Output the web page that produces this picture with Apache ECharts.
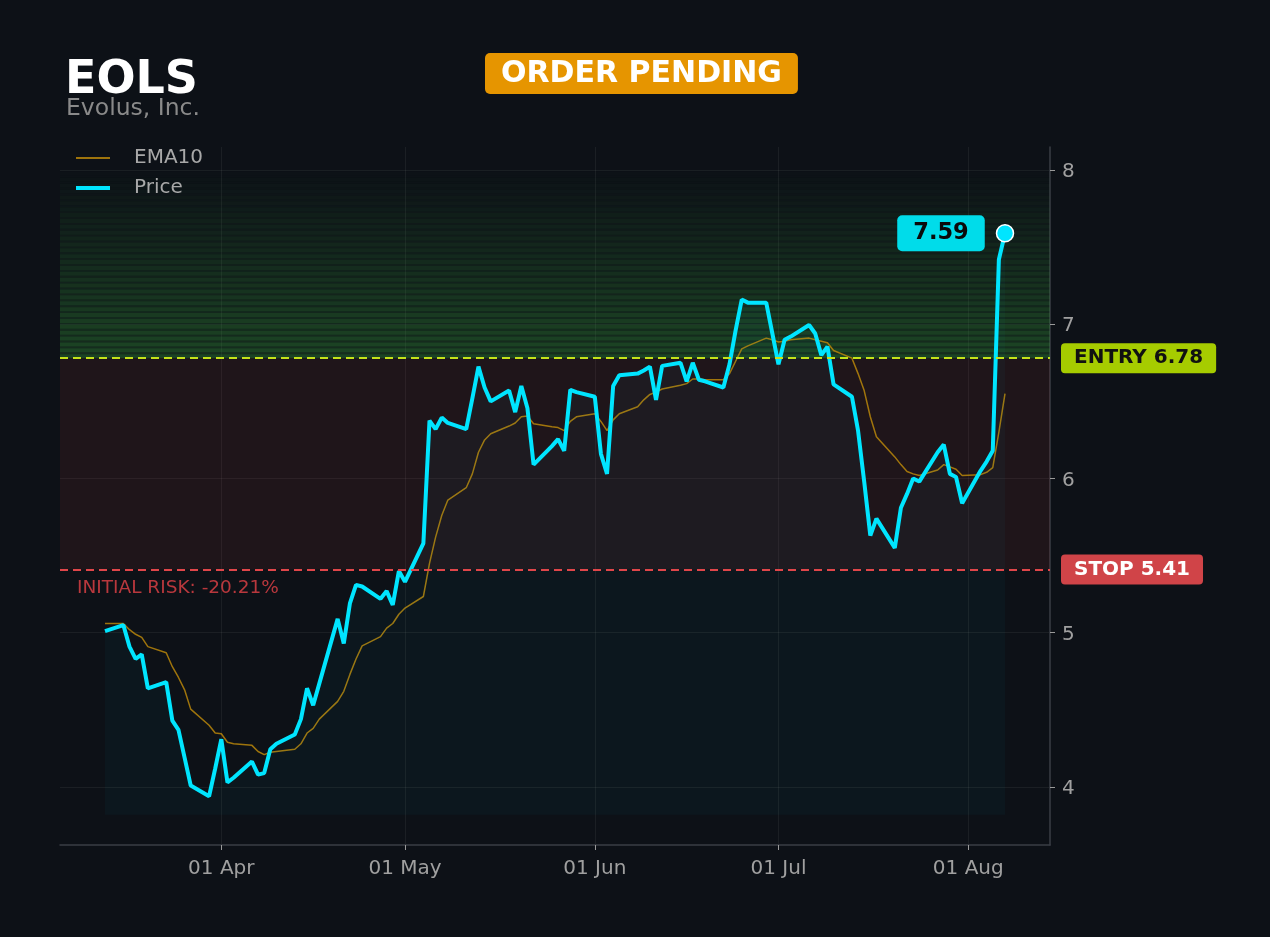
<!DOCTYPE html>
<html>
<head>
<meta charset="utf-8">
<title>EOLS</title>
<script src="https://cdn.jsdelivr.net/npm/echarts@6/dist/echarts.min.js"></script>
<style>
  html, body { margin: 0; padding: 0; background: #0d1117; }
  #chart { width: 1270px; height: 937px; }
</style>
</head>
<body>
<div id="chart"></div>
<script>
// trading days, 2026
const days = [
  '03-13',
  '03-16', '03-17', '03-18', '03-19', '03-20',
  '03-23', '03-24', '03-25', '03-26', '03-27',
  '03-30', '03-31', '04-01', '04-02', '04-03',
  '04-06', '04-07', '04-08', '04-09', '04-10',
  '04-13', '04-14', '04-15', '04-16', '04-17',
  '04-20', '04-21', '04-22', '04-23', '04-24',
  '04-27', '04-28', '04-29', '04-30', '05-01',
  '05-04', '05-05', '05-06', '05-07', '05-08',
  '05-11', '05-12', '05-13', '05-14', '05-15',
  '05-18', '05-19', '05-20', '05-21', '05-22',
  '05-25', '05-26', '05-27', '05-28', '05-29',
  '06-01', '06-02', '06-03', '06-04', '06-05',
  '06-08', '06-09', '06-10', '06-11', '06-12',
  '06-15', '06-16', '06-17', '06-18', '06-19',
  '06-22', '06-23', '06-24', '06-25', '06-26',
  '06-29', '06-30', '07-01', '07-02', '07-03',
  '07-06', '07-07', '07-08', '07-09', '07-10',
  '07-13', '07-14', '07-15', '07-16', '07-17',
  '07-20', '07-21', '07-22', '07-23', '07-24',
  '07-27', '07-28', '07-29', '07-30', '07-31',
  '08-03', '08-04', '08-05', '08-06', '08-07'
];

const price = [
  5.01,
  5.05, 4.91, 4.83, 4.86, 4.64,
  4.68, 4.43, 4.37, 4.19, 4.01,
  3.94, 4.12, 4.31, 4.03, 4.06,
  4.165, 4.08, 4.09, 4.245, 4.28,
  4.34, 4.44, 4.64, 4.53, 4.67,
  5.09, 4.93, 5.19, 5.31, 5.30,
  5.22, 5.27, 5.18, 5.40, 5.33,
  5.58, 6.375, 6.32, 6.395, 6.36,
  6.32, 6.52, 6.725, 6.59, 6.50,
  6.57, 6.43, 6.60, 6.455, 6.09,
  6.21, 6.255, 6.18, 6.575, 6.56,
  6.53, 6.16, 6.03, 6.60, 6.67,
  6.68, 6.70, 6.725, 6.51, 6.73,
  6.75, 6.63, 6.75, 6.64, 6.63,
  6.59, 6.74, 6.96, 7.16, 7.14,
  7.14, 6.94, 6.74, 6.90, 6.92,
  6.995, 6.94, 6.80, 6.855, 6.61,
  6.53, 6.31, 5.98, 5.63, 5.74,
  5.55, 5.81, 5.90, 6.00, 5.98,
  6.17, 6.22, 6.03, 6.01, 5.84,
  6.05, 6.11, 6.18, 7.42, 7.59
];

const ema10 = [
  5.06,
  5.06, 5.02, 4.99, 4.97, 4.91,
  4.87, 4.78, 4.71, 4.63, 4.505,
  4.40, 4.35, 4.345, 4.29, 4.28,
  4.27, 4.23, 4.21, 4.225, 4.23,
  4.245, 4.28, 4.35, 4.38, 4.44,
  4.555, 4.62, 4.73, 4.83, 4.915,
  4.975, 5.03, 5.06, 5.12, 5.16,
  5.235, 5.45, 5.62, 5.76, 5.86,
  5.94, 6.03, 6.17, 6.25, 6.29,
  6.34, 6.36, 6.40, 6.405, 6.355,
  6.335, 6.33, 6.31, 6.37, 6.40,
  6.42, 6.37, 6.31, 6.38, 6.42,
  6.465, 6.51, 6.545, 6.56, 6.58,
  6.605, 6.615, 6.645, 6.645, 6.64,
  6.64, 6.68, 6.76, 6.84, 6.86,
  6.91, 6.90, 6.885, 6.89, 6.90,
  6.91, 6.90, 6.89, 6.88, 6.83,
  6.78, 6.68, 6.57, 6.40, 6.27,
  6.14, 6.09, 6.045, 6.03, 6.02,
  6.055, 6.09, 6.075, 6.06, 6.02,
  6.025, 6.04, 6.07, 6.30, 6.55
];

const monthTicks = ['2026-04-01', '2026-05-01', '2026-06-01', '2026-07-01', '2026-08-01'];
const yTicks = [4, 5, 6, 7, 8];

const entryPrice = 6.78;
const stopPrice = 5.41;
const fillFloor = 3.82;
const targetTop = 8.0;

const toTime = s => new Date(s + 'T00:00:00').getTime();
const dates = days.map(d => toTime('2026-' + d));
const last = dates.length - 1;

const span = dates[last] - dates[0];
const xMin = dates[0] - span * 0.05;
const xMax = dates[last] + span * 0.05;

const riskPct = ((stopPrice - entryPrice) / entryPrice * 100).toFixed(2);

// striped green zone above the entry, fading out upwards
const stripeCount = 32;
const stripeH = (targetTop - entryPrice) / stripeCount;
const zones = [
  [{ yAxis: stopPrice, itemStyle: { color: 'rgba(200,55,60,0.1)' } }, { yAxis: entryPrice }]
];
for (let i = 0; i < stripeCount; i++) {
  const k = 1 - i / stripeCount;
  const y0 = entryPrice + i * stripeH;
  zones.push([{ yAxis: y0, itemStyle: { color: 'rgba(56,162,60,' + (0.36 * k).toFixed(3) + ')' } },
              { yAxis: y0 + stripeH * 0.68 }]);
  zones.push([{ yAxis: y0 + stripeH * 0.68, itemStyle: { color: 'rgba(56,162,60,' + (0.2 * k).toFixed(3) + ')' } },
              { yAxis: y0 + stripeH }]);
}

const FONT = 'DejaVu Sans';
const chart = echarts.init(document.getElementById('chart'));

chart.setOption({
  backgroundColor: '#0d1117',
  animation: false,
  textStyle: { fontFamily: FONT },
  title: [
    { text: 'EOLS', left: 65, top: 58, padding: 0, textStyle: { color: '#ffffff', fontSize: 46, fontWeight: 'bold', fontFamily: FONT } },
    { text: 'Evolus, Inc.', left: 66, top: 97, padding: 0, textStyle: { color: '#8a8a8a', fontSize: 23.5, fontWeight: 'normal', fontFamily: FONT } },
    {
      text: 'ORDER PENDING', left: 485, top: 53,
      backgroundColor: '#e69500', borderRadius: 5, padding: [6, 16, 5, 16],
      textStyle: { color: '#ffffff', fontSize: 30, fontWeight: 'bold', fontFamily: FONT }
    }
  ],
  legend: {
    orient: 'vertical', left: 74, top: 148, padding: 0,
    itemWidth: 34, itemHeight: 10, itemGap: 10,
    itemStyle: { opacity: 0 },
    textStyle: { color: '#a8a8a8', fontSize: 20, fontFamily: FONT, padding: [0, 0, 0, 19] },
    data: [
      { name: 'EMA10', lineStyle: { width: 2, color: 'rgba(184,134,11,0.85)' } },
      { name: 'Price', lineStyle: { width: 4, color: '#00e5ff' } }
    ]
  },
  grid: { left: 60, right: 220, top: 147, bottom: 92 },
  xAxis: {
    type: 'value', min: xMin, max: xMax,
    axisLine: { show: true, lineStyle: { color: '#3a3e46', width: 1.5 } },
    axisTick: { show: true, length: 5, lineStyle: { color: '#9a9a9a' }, customValues: monthTicks.map(toTime) },
    axisLabel: {
      color: '#a0a0a0', fontSize: 20, fontFamily: FONT, margin: 14,
      customValues: monthTicks.map(toTime),
      formatter: v => echarts.time.format(v, '{dd} {MMM}', false)
    },
    splitLine: { show: true, lineStyle: { color: 'rgba(255,255,255,0.06)', width: 1 } }
  },
  yAxis: {
    type: 'value', position: 'right', min: 3.624, max: 8.149,
    axisLine: { show: true, lineStyle: { color: '#3a3e46', width: 1.5 } },
    axisTick: { show: true, length: 5, lineStyle: { color: '#9a9a9a' }, customValues: yTicks },
    axisLabel: {
      margin: 12, customValues: yTicks,
      formatter: v => '{t|' + v + '}',
      rich: { t: { color: '#a0a0a0', fontSize: 20, fontFamily: FONT, padding: [4, 0, 0, 0] } }
    },
    splitLine: { show: true, lineStyle: { color: 'rgba(255,255,255,0.06)', width: 1 } }
  },
  graphic: [{
    type: 'text', left: 77, top: 579, silent: true,
    style: { text: 'INITIAL RISK: ' + riskPct + '%', fill: '#b9383d', font: '18.5px "DejaVu Sans"' }
  }],
  series: [
    {
      name: 'EMA10', type: 'line', z: 2, symbol: 'none',
      data: dates.map((d, i) => [d, ema10[i]]),
      lineStyle: { width: 1.5, color: 'rgba(184,134,11,0.85)' },
      itemStyle: { color: 'rgba(184,134,11,0.85)' },
      markArea: { silent: true, data: zones },
      markLine: {
        silent: true, symbol: ['none', 'none'],
        data: [
          {
            yAxis: entryPrice,
            lineStyle: { color: '#c4e31a', type: [8, 5], width: 2 },
            label: {
              show: true, position: 'end', distance: 11, formatter: 'ENTRY ' + entryPrice.toFixed(2),
              backgroundColor: '#a6cc00', color: '#111111', borderRadius: 4, padding: [5, 13, 5, 13],
              fontSize: 20, fontWeight: 'bold', fontFamily: FONT
            }
          },
          {
            yAxis: stopPrice,
            lineStyle: { color: '#e0464a', type: [8, 5], width: 2 },
            label: {
              show: true, position: 'end', distance: 11, formatter: 'STOP ' + stopPrice.toFixed(2),
              backgroundColor: '#d04448', color: '#ffffff', borderRadius: 4, padding: [5, 13, 5, 13],
              fontSize: 20, fontWeight: 'bold', fontFamily: FONT
            }
          }
        ]
      }
    },
    {
      name: 'Price', type: 'line', z: 3, symbol: 'none',
      data: dates.map((d, i) => [d, price[i]]),
      lineStyle: { width: 4, color: '#00e5ff' },
      itemStyle: { color: '#00e5ff' },
      areaStyle: { origin: fillFloor, color: 'rgba(0,229,255,0.045)' },
      markPoint: {
        silent: true,
        symbol: 'circle', symbolSize: 17,
        itemStyle: { color: '#00e5ff', borderColor: '#ffffff', borderWidth: 1.5 },
        label: {
          show: true, position: 'left', distance: 11,
          formatter: p => p.value.toFixed(2),
          backgroundColor: '#00dcea', color: '#0a0a0a', borderRadius: 5, padding: [7, 16, 6, 16],
          fontSize: 22.5, fontWeight: 'bold', fontFamily: FONT
        },
        data: [{ coord: [dates[last], price[last]], value: price[last] }]
      }
    }
  ]
});

window.addEventListener('resize', () => chart.resize());
</script>
</body>
</html>
